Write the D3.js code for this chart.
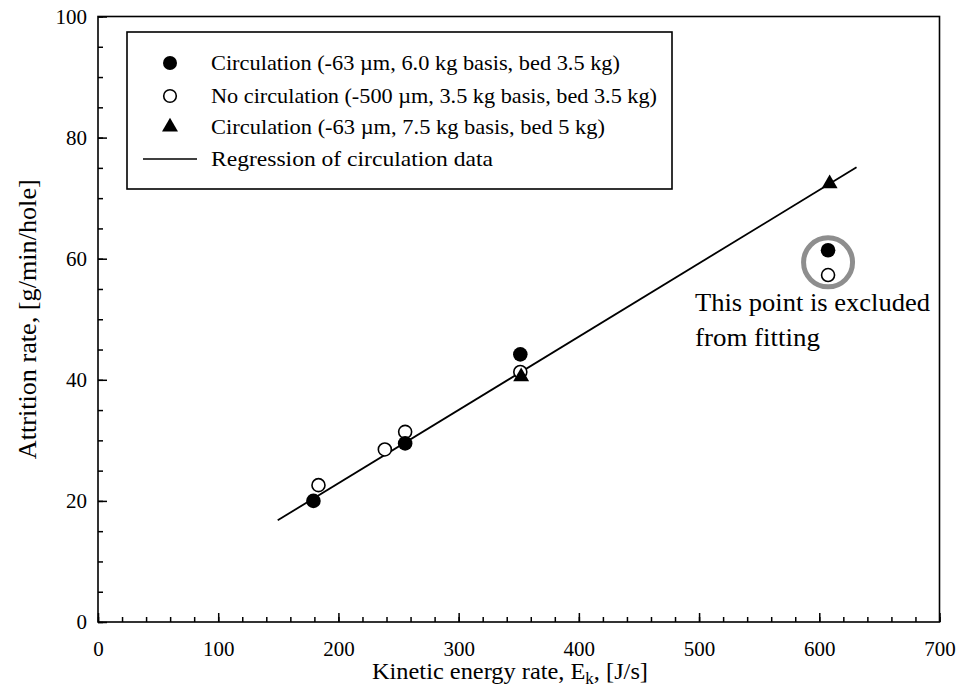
<!DOCTYPE html>
<html><head><meta charset="utf-8">
<script src="https://cdn.jsdelivr.net/npm/d3@7"></script>
<style>body{margin:0;background:#fff}svg{display:block}svg text{font-family:"Liberation Serif","Times New Roman",serif;fill:#000}</style>
</head><body><svg id="c" width="959" height="693" font-family="Liberation Serif"></svg>
<script>
// Data
const filledX = [179.2, 255.5, 351.3, 607.3];
const filledY = [20.0, 29.5, 44.2, 61.4];
const openX = [183.4, 238.6, 255.5, 351.3, 607.3];
const openY = [22.6, 28.5, 31.4, 41.3, 57.3];
const triX = [352, 608.6];
const triY = [40.5, 72.4];
const regX = [149.5, 631];
const regY = [16.8, 75.1];
const excludedX = [607.3];
const excludedY = [59.4];
const xTicks = [0, 100, 200, 300, 400, 500, 600, 700];
const yTicks = [0, 20, 40, 60, 80, 100];
const legendLabels = [
  "Circulation (-63 \u00b5m, 6.0 kg basis, bed 3.5 kg)",
  "No circulation (-500 \u00b5m, 3.5 kg basis, bed 3.5 kg)",
  "Circulation (-63 \u00b5m, 7.5 kg basis, bed 5 kg)",
  "Regression of circulation data"
];
const legendWidths = [409, 446, 394, 282];

const svg = d3.select("#c");
const L = 98, R = 939.5, T = 16.5, B = 622;
const x = d3.scaleLinear().domain([0, 700]).range([L, R]);
const y = d3.scaleLinear().domain([0, 100]).range([B, T]);

// frame
svg.append("rect").attr("x", L).attr("y", T).attr("width", R - L).attr("height", B - T)
  .attr("fill", "none").attr("stroke", "#000").attr("stroke-width", 1.6);

// axes
const xMinor = d3.range(0, 701, 20);
const yMinor = d3.range(0, 101, 5);
const gx = svg.append("g").attr("transform", `translate(0,${B})`);
gx.call(d3.axisBottom(x).tickValues(xMinor).tickSize(-5).tickFormat(""));
gx.select(".domain").remove();
const gx2 = svg.append("g").attr("transform", `translate(0,${B})`);
gx2.call(d3.axisBottom(x).tickValues(xTicks).tickSizeInner(-9).tickSizeOuter(0).tickPadding(19).tickFormat(d3.format("d")));
gx2.select(".domain").remove();
const gy = svg.append("g").attr("transform", `translate(${L},0)`);
gy.call(d3.axisLeft(y).tickValues(yMinor).tickSize(-5).tickFormat(""));
gy.select(".domain").remove();
const gy2 = svg.append("g").attr("transform", `translate(${L},0)`);
gy2.call(d3.axisLeft(y).tickValues(yTicks).tickSizeInner(-9).tickSizeOuter(0).tickPadding(11).tickFormat(d3.format("d")));
gy2.select(".domain").remove();
svg.selectAll("g").attr("font-family", "Liberation Serif");
svg.selectAll(".tick line").attr("stroke", "#000").attr("stroke-width", 1.5);
svg.selectAll(".tick text").attr("font-size", 21).attr("fill", "#000");

// regression line
svg.append("path").datum(d3.zip(regX, regY))
  .attr("d", d3.line().x(d => x(d[0])).y(d => y(d[1])))
  .attr("stroke", "#000").attr("stroke-width", 1.8).attr("fill", "none");

// excluded ring
svg.selectAll(".ring").data(d3.zip(excludedX, excludedY)).join("circle")
  .attr("cx", d => x(d[0])).attr("cy", d => y(d[1])).attr("r", 24.5)
  .attr("fill", "none").attr("stroke", "#8e8e8e").attr("stroke-width", 5);

const tri = d3.symbol().type(d3.symbolTriangle).size(110);
svg.selectAll(".op").data(d3.zip(openX, openY)).join("circle")
  .attr("cx", d => x(d[0])).attr("cy", d => y(d[1])).attr("r", 6.5)
  .attr("fill", "#fff").attr("stroke", "#000").attr("stroke-width", 1.6);
svg.selectAll(".tr").data(d3.zip(triX, triY)).join("path")
  .attr("d", tri).attr("transform", d => `translate(${x(d[0])},${y(d[1])})`).attr("fill", "#000");
svg.selectAll(".fc").data(d3.zip(filledX, filledY)).join("circle")
  .attr("cx", d => x(d[0])).attr("cy", d => y(d[1])).attr("r", 7.3).attr("fill", "#000");

// annotation
const ann = svg.append("text").attr("font-size", 25);
ann.append("tspan").attr("x", 695).attr("y", 311).attr("textLength", 235).attr("lengthAdjust", "spacingAndGlyphs").text("This point is excluded");
ann.append("tspan").attr("x", 695).attr("y", 346).attr("textLength", 125).attr("lengthAdjust", "spacingAndGlyphs").text("from fitting");

// legend
svg.append("rect").attr("x", 127).attr("y", 32).attr("width", 545).attr("height", 157)
  .attr("fill", "#fff").attr("stroke", "#000").attr("stroke-width", 1.6);
const ly = [63, 96, 127, 159];
svg.append("circle").attr("cx", 170).attr("cy", ly[0]).attr("r", 7).attr("fill", "#000");
svg.append("circle").attr("cx", 170).attr("cy", ly[1]).attr("r", 6.3).attr("fill", "#fff").attr("stroke", "#000").attr("stroke-width", 1.6);
svg.append("path").attr("d", tri).attr("transform", `translate(170,${ly[2]})`).attr("fill", "#000");
svg.append("line").attr("x1", 143).attr("x2", 197).attr("y1", ly[3]).attr("y2", ly[3]).attr("stroke", "#000").attr("stroke-width", 1.6);
legendLabels.forEach((t, i) => {
  svg.append("text").attr("x", 211).attr("y", ly[i] + 7).attr("font-size", 22)
    .attr("textLength", legendWidths[i]).attr("lengthAdjust", "spacingAndGlyphs").text(t);
});

// axis titles
const xt = svg.append("text").attr("x", 372).attr("y", 679).attr("font-size", 23)
  .attr("textLength", 276).attr("lengthAdjust", "spacingAndGlyphs");
xt.append("tspan").text("Kinetic energy rate, E");
xt.append("tspan").attr("font-size", 16).attr("dy", 5).text("k");
xt.append("tspan").attr("dy", -5).text(", [J/s]");
svg.append("text").attr("transform", `translate(36,${(T + B) / 2}) rotate(-90)`)
  .attr("text-anchor", "middle").attr("font-size", 26)
  .attr("textLength", 280).attr("lengthAdjust", "spacingAndGlyphs").text("Attrition rate, [g/min/hole]");
</script></body></html>
